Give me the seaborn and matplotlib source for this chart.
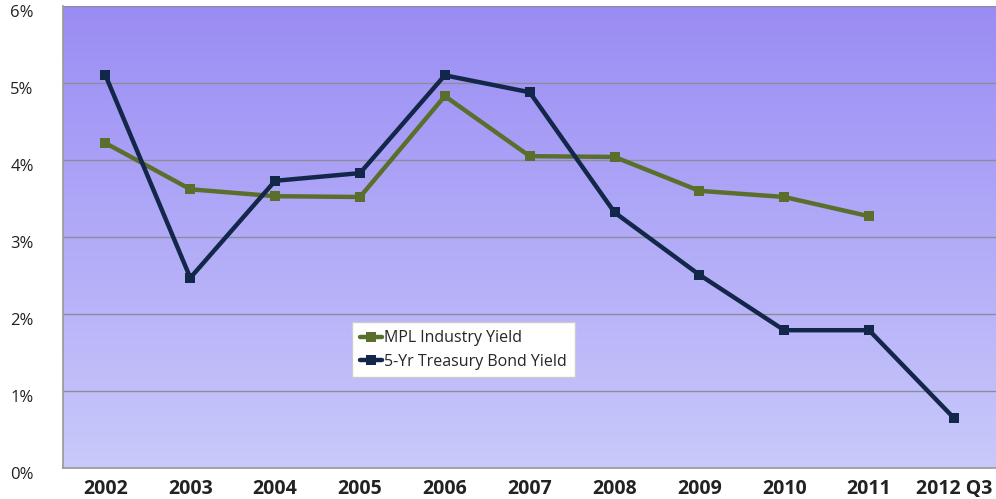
import matplotlib
matplotlib.use("Agg")
import matplotlib.pyplot as plt
import matplotlib.transforms as mtransforms
import numpy as np
import pandas as pd
import seaborn as sns

# ============================================================
# Data
# ============================================================
categories = ["2002", "2003", "2004", "2005", "2006", "2007",
              "2008", "2009", "2010", "2011", "2012 Q3"]
mpl_yield = [4.22, 3.62, 3.53, 3.52, 4.83, 4.05, 4.04, 3.60, 3.52, 3.27, np.nan]
treasury_yield = [5.10, 2.47, 3.73, 3.83, 5.10, 4.88, 3.32, 2.51, 1.79, 1.79, 0.65]
y_ticks = [0, 1, 2, 3, 4, 5, 6]

series_names = ["MPL Industry Yield", "5-Yr Treasury Bond Yield"]
series_colors = ["#5B6F2C", "#13274A"]

df = pd.DataFrame({
    "pos": list(range(len(categories))) * 2,
    "value": mpl_yield + treasury_yield,
    "series": [series_names[0]] * len(categories) + [series_names[1]] * len(categories),
})

# ============================================================
# Plot
# ============================================================
sns.set_theme(style="white")
plt.rcParams["font.family"] = ["Open Sans", "DejaVu Sans"]

fig = plt.figure(figsize=(9.96, 4.99), dpi=100)
ax = fig.add_axes([0.0633, 0.062, 0.937, 0.926])

# gradient background
grad = np.linspace(0, 1, 256).reshape(-1, 1)
cmap = matplotlib.colors.LinearSegmentedColormap.from_list("bg", ["#9A8CF4", "#C9C9FB"])
ax.imshow(grad, cmap=cmap, aspect="auto", extent=[0, 1, 0, 1],
          transform=ax.transAxes, zorder=0)

for yv in y_ticks[1:]:
    ax.axhline(yv, color="#8C8C9C", linewidth=1, zorder=1)

sns.lineplot(data=df, x="pos", y="value", hue="series", palette=series_colors,
             marker="s", markersize=7, markeredgewidth=0, linewidth=3.2,
             ax=ax, zorder=3)

ax.set_xlim(-0.5, len(categories) - 0.5)
ax.set_ylim(0, 6)
ax.set_xticks(range(len(categories)))
ax.set_xticklabels(categories, fontsize=14, fontweight="bold", color="#222222")
ax.set_xticks(np.arange(-0.5, len(categories), 1), minor=True)
ax.tick_params(axis="x", which="major", length=0, pad=8)
ax.tick_params(axis="x", which="minor", length=5, color="#9A9A9A", width=1, direction="out")
ax.set_yticks(y_ticks)
ax.set_yticklabels([f"{v}%" for v in y_ticks], fontsize=12, color="#222222")
ax.tick_params(axis="y", length=0, pad=38)

# labels sit a bit below their gridlines, left aligned
shift = mtransforms.ScaledTranslation(0, -5 / 100, fig.dpi_scale_trans)
for tick in ax.yaxis.get_major_ticks():
    tick.label1.set_horizontalalignment("left")
    tick.label1.set_transform(tick.label1.get_transform() + shift)

ax.set_xlabel("")
ax.set_ylabel("")
for s in ["top", "right"]:
    ax.spines[s].set_visible(False)
ax.spines["left"].set_color("#9A9A9A")
ax.spines["bottom"].set_color("#9A9A9A")

leg = ax.legend(loc="lower left", bbox_to_anchor=(0.3096, 0.196), fontsize=11.5,
                frameon=True, fancybox=False, handlelength=1.4, handletextpad=0.1,
                borderpad=0.5, borderaxespad=0, labelspacing=0.45)
leg.get_frame().set_facecolor("white")
leg.get_frame().set_edgecolor("#CCCCCC")
leg.get_frame().set_alpha(1)

fig.savefig("out.png", dpi=100)
